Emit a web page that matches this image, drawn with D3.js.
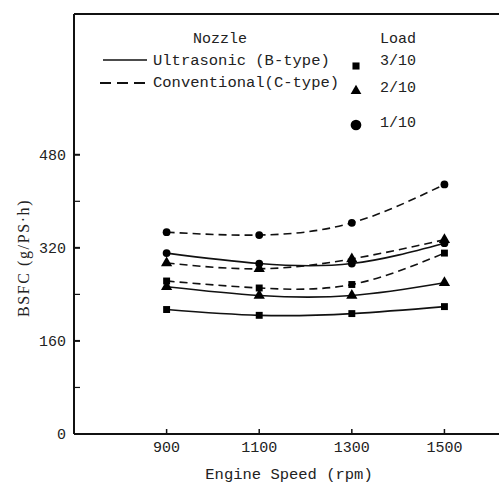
<!DOCTYPE html>
<html>
<head>
<meta charset="utf-8">
<script src="https://cdn.jsdelivr.net/npm/d3@7"></script>
<style>
  body { margin: 0; background: #fff; }
  svg { display: block; }
  text { font-family: "Liberation Mono", "DejaVu Sans Mono", monospace; fill: #222; }
</style>
</head>
<body>
<div id="chart"></div>
<script>
const width = 499;
const height = 486;

// engine speeds (rpm)
const speeds = [900, 1100, 1300, 1500];
const yTicks = [0, 160, 320, 480];
const yMinorTicks = [80, 240, 400];

// BSFC values (g/PS.h)
const ultra3 = [214, 204, 207, 219];  // B-type, load 3/10
const ultra2 = [253, 238, 238, 260];  // B-type, load 2/10
const ultra1 = [311, 293, 293, 328];  // B-type, load 1/10
const conv3 = [263, 251, 257, 311];   // C-type, load 3/10
const conv2 = [294, 284, 301, 334];   // C-type, load 2/10
const conv1 = [347, 342, 363, 429];   // C-type, load 1/10

const loads = ['3/10', '2/10', '1/10'];
const symbols = [d3.symbolSquare, d3.symbolTriangle, d3.symbolCircle];

const series = [
  { values: ultra3, dashed: false, load: 0 },
  { values: ultra2, dashed: false, load: 1 },
  { values: ultra1, dashed: false, load: 2 },
  { values: conv3, dashed: true, load: 0 },
  { values: conv2, dashed: true, load: 1 },
  { values: conv1, dashed: true, load: 2 },
];

const svg = d3.select('#chart')
  .append('svg')
  .attr('width', width)
  .attr('height', height);

const xScale = d3.scaleLinear().domain([700, 1620]).range([74, 500]);
const yScale = d3.scaleLinear().domain([0, 722]).range([434, 14]);

// frame: top line, left axis, bottom axis
svg.append('line')
  .attr('x1', xScale(700)).attr('x2', width)
  .attr('y1', yScale(722)).attr('y2', yScale(722))
  .attr('stroke', '#111').attr('stroke-width', 2);

svg.append('line')
  .attr('x1', xScale(700)).attr('x2', xScale(700))
  .attr('y1', yScale(722)).attr('y2', yScale(0))
  .attr('stroke', '#111').attr('stroke-width', 2);

svg.append('line')
  .attr('x1', xScale(700)).attr('x2', width)
  .attr('y1', yScale(0)).attr('y2', yScale(0))
  .attr('stroke', '#111').attr('stroke-width', 2);

// y ticks point inward
const yAxis = svg.append('g');
yAxis.selectAll('line')
  .data(yTicks.concat(yMinorTicks))
  .join('line')
  .attr('x1', xScale(700)).attr('x2', xScale(700) + 6)
  .attr('y1', d => yScale(d)).attr('y2', d => yScale(d))
  .attr('stroke', '#111').attr('stroke-width', d => yTicks.includes(d) ? 2 : 1.2);

yAxis.selectAll('text')
  .data(yTicks)
  .join('text')
  .attr('x', xScale(700) - 8)
  .attr('y', d => yScale(d))
  .attr('dy', '0.35em')
  .attr('text-anchor', 'end')
  .style('font-size', '15px')
  .text(d => d);

// x ticks point inward too
const xAxis = svg.append('g');
xAxis.selectAll('line')
  .data(speeds)
  .join('line')
  .attr('x1', d => xScale(d)).attr('x2', d => xScale(d))
  .attr('y1', yScale(0)).attr('y2', yScale(0) - 5)
  .attr('stroke', '#111').attr('stroke-width', 1.5);

xAxis.selectAll('text')
  .data(speeds)
  .join('text')
  .attr('x', d => xScale(d))
  .attr('y', yScale(0) + 13)
  .attr('dy', '0.35em')
  .attr('text-anchor', 'middle')
  .style('font-size', '15px')
  .text(d => d);

// axis titles
svg.append('text')
  .attr('x', 289)
  .attr('y', 474)
  .attr('dy', '0.35em')
  .attr('text-anchor', 'middle')
  .style('font-size', '15.5px')
  .text('Engine Speed (rpm)');

svg.append('text')
  .attr('transform', `translate(23, 258) rotate(-90)`)
  .attr('dy', '0.35em')
  .attr('text-anchor', 'middle')
  .style('font-family', '"Liberation Serif", serif')
  .style('font-size', '16px')
  .style('letter-spacing', '1.6px')
  .text('BSFC (g/PS·h)');

// curves
const line = d3.line()
  .x((d, i) => xScale(speeds[i]))
  .y(d => yScale(d))
  .curve(d3.curveNatural);

const plot = svg.append('g');

plot.selectAll('path')
  .data(series)
  .join('path')
  .attr('d', d => line(d.values))
  .attr('fill', 'none')
  .attr('stroke', '#111')
  .attr('stroke-width', 1.6)
  .attr('stroke-dasharray', d => d.dashed ? '8,5' : null);

// markers
series.forEach(s => {
  plot.append('g')
    .selectAll('path')
    .data(s.values)
    .join('path')
    .attr('transform', (d, i) => `translate(${xScale(speeds[i])},${yScale(d)})`)
    .attr('d', d3.symbol().type(symbols[s.load]).size(s.load === 1 ? 55 : 48))
    .attr('fill', '#000');
});

// legend
const legend = svg.append('g');

legend.append('text')
  .attr('x', 193).attr('y', 43)
  .style('font-size', '15px')
  .text('Nozzle');

legend.append('text')
  .attr('x', 380).attr('y', 43)
  .style('font-size', '15px')
  .text('Load');

legend.append('line')
  .attr('x1', 103).attr('x2', 147)
  .attr('y1', 60).attr('y2', 60)
  .attr('stroke', '#111').attr('stroke-width', 1.6);

legend.append('text')
  .attr('x', 153).attr('y', 60)
  .attr('dy', '0.35em')
  .style('font-size', '15.5px')
  .text('Ultrasonic (B-type)');

legend.append('line')
  .attr('x1', 100).attr('x2', 147)
  .attr('y1', 83).attr('y2', 83)
  .attr('stroke', '#111').attr('stroke-width', 2)
  .attr('stroke-dasharray', '11,6');

legend.append('text')
  .attr('x', 153).attr('y', 82)
  .attr('dy', '0.35em')
  .style('font-size', '15.5px')
  .text('Conventional(C-type)');

const legendY = [66, 91, 125];
const labelY = [60, 87, 122];

legend.selectAll('path')
  .data(loads)
  .join('path')
  .attr('transform', (d, i) => `translate(356,${legendY[i]})`)
  .attr('d', (d, i) => d3.symbol().type(symbols[i]).size(i === 2 ? 90 : 50)())
  .attr('fill', '#000');

legend.selectAll('text.load')
  .data(loads)
  .join('text')
  .attr('class', 'load')
  .attr('x', 380)
  .attr('y', (d, i) => labelY[i])
  .attr('dy', '0.35em')
  .style('font-size', '15px')
  .text(d => d);
</script>
</body>
</html>
